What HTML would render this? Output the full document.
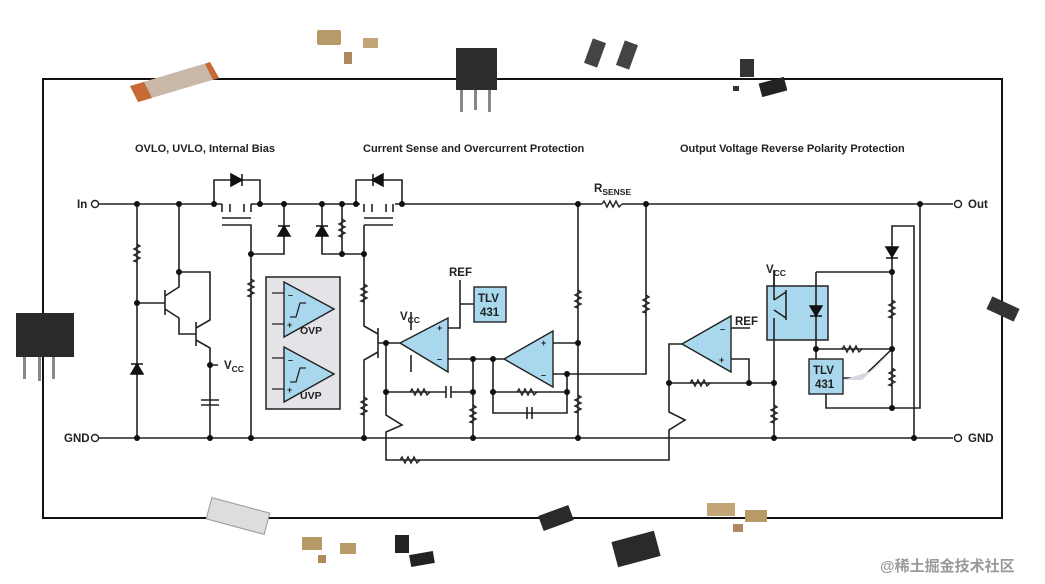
<!DOCTYPE html>
<html><head><meta charset="utf-8"><style>
html,body{margin:0;padding:0;background:#fff;width:1045px;height:584px;overflow:hidden}
svg{display:block}
text{font-family:"Liberation Sans",Arial,sans-serif;font-weight:bold;fill:#222}
</style></head><body>
<svg width="1045" height="584" viewBox="0 0 1045 584" xmlns="http://www.w3.org/2000/svg">
<defs>
<g id="rv"><path d="M0,-10 l3,2 l-6,3 l6,3 l-6,3 l6,3 l-6,3 l3,1" fill="none" stroke="#222" stroke-width="1.4"/></g>
<g id="rh"><path d="M-10,0 l2,-3 l3,6 l3,-6 l3,6 l3,-6 l3,6 l3,-3" fill="none" stroke="#222" stroke-width="1.4"/></g>
</defs>
<rect x="43" y="79" width="959" height="439" fill="none" stroke="#111" stroke-width="2"/>
<g fill="none" stroke="#222" stroke-width="1.6">
<path d="M99,204 H222 M251,204 H360 M395,204 H602 M622,204 H953"/>
<path d="M99,438 H953"/>
<path d="M214,204 V180 H260 V204 M222,204 V212 M230,204 V212 M244,204 V212 M251,204 V212 M222,218 H251 M222,225 H251 V254 H284 V204"/>
<path d="M137,204 V438 M179,204 V272 H210 V282 M251,254 V438"/>
<path d="M137,303 H165 M165,290 V315 M165,296 L179,287 V272 M165,309 L179,318 V334 H196 M196,322 V346 M196,328 L210,320 V282 M196,340 L210,348 V438"/>
<path d="M210,365 H218 M201,400 H219 M201,405 H219"/>
<path d="M356,204 V180 H402 V204 M364,204 V212 M372,204 V212 M386,204 V212 M393,204 V212 M364,218 H393 M364,225 H393"/>
<path d="M322,204 V254 H364 M342,204 V254 M364,225 V326 L378,334 M378,328 V358 M378,352 L364,360 V438"/>
<path d="M378,343 H400 M386,343 V392 M386,392 L386,415 L402,425 L386,432 V460 H669 V438 M669,438 V430 L685,420 L669,412 V344 H682"/>
<path d="M411,312 V330 M411,355 V372"/>
<path d="M448,328 H460 V280 M460,304 H474 M448,359 H504 M473,359 V438 M493,359 V413 H567 V374"/>
<path d="M386,392 H446 M451,392 H473 M446,386 V398 M451,386 V398 M493,392 H567 M527,407 V419 M532,407 V419"/>
<path d="M553,343 H578 M553,374 H646 V204 M578,204 V438"/>
<path d="M731,359 H749 V383 M731,328 H750 M669,383 H774 M774,300 V438 M774,270 V290 M774,300 L786,292 M774,310 L786,318 M786,290 V320"/>
<path d="M816,272 H892 V226 H914 V438 M892,272 V408 M816,272 V359 M816,349 H892 M826,394 V408 H920 V204"/>
<path d="M843,378 H862 L892,349"/>
<path d="M792,302 l5,-4 h4 M792,316 l5,-4 h4"/>
</g>
<g>
<use href="#rv" x="137" y="254"/><use href="#rv" x="251" y="289"/><use href="#rv" x="342" y="229"/>
<use href="#rv" x="364" y="294"/><use href="#rv" x="364" y="407"/><use href="#rv" x="473" y="415"/>
<use href="#rv" x="578" y="300"/><use href="#rv" x="578" y="405"/><use href="#rv" x="646" y="305"/>
<use href="#rv" x="774" y="415"/><use href="#rv" x="892" y="310"/><use href="#rv" x="892" y="378"/>
<use href="#rh" x="612" y="204"/><use href="#rh" x="420" y="392"/><use href="#rh" x="527" y="392"/>
<use href="#rh" x="410" y="460"/><use href="#rh" x="700" y="383"/><use href="#rh" x="852" y="349"/>
</g>
<g fill="#111" stroke="#111" stroke-width="1.5">
<path d="M231,174 L231,186 L242,180 Z M242,174 V186"/>
<path d="M373,174 L373,186 L384,180 Z" transform="rotate(180 378 180)"/><path d="M373,174 V186"/>
<path d="M278,236 h12 l-6,-10 z M278,226 h12"/><path d="M316,236 h12 l-6,-10 z M316,226 h12"/>
<path d="M131,374 h12 l-6,-10 z M131,364 h12"/>
<path d="M886,247 h12 l-6,10 z M886,258 h12"/>
</g>
<path d="M843,380 L862,380 L892,351 L874,370Z" fill="#d8d8e4"/>
<g fill="#111">
<circle cx="137" cy="204" r="3"/><circle cx="179" cy="204" r="3"/><circle cx="214" cy="204" r="3"/><circle cx="260" cy="204" r="3"/><circle cx="284" cy="204" r="3"/><circle cx="322" cy="204" r="3"/><circle cx="342" cy="204" r="3"/><circle cx="356" cy="204" r="3"/><circle cx="402" cy="204" r="3"/><circle cx="578" cy="204" r="3"/><circle cx="646" cy="204" r="3"/><circle cx="920" cy="204" r="3"/>
<circle cx="251" cy="254" r="3"/><circle cx="342" cy="254" r="3"/><circle cx="364" cy="254" r="3"/><circle cx="179" cy="272" r="3"/><circle cx="137" cy="303" r="3"/><circle cx="210" cy="365" r="3"/>
<circle cx="386" cy="343" r="3"/><circle cx="473" cy="359" r="3"/><circle cx="493" cy="359" r="3"/><circle cx="578" cy="343" r="3"/><circle cx="567" cy="374" r="3"/>
<circle cx="386" cy="392" r="3"/><circle cx="473" cy="392" r="3"/><circle cx="493" cy="392" r="3"/><circle cx="567" cy="392" r="3"/>
<circle cx="669" cy="383" r="3"/><circle cx="749" cy="383" r="3"/><circle cx="774" cy="383" r="3"/><circle cx="892" cy="272" r="3"/><circle cx="816" cy="349" r="3"/><circle cx="892" cy="349" r="3"/><circle cx="892" cy="408" r="3"/>
<circle cx="137" cy="438" r="3"/><circle cx="210" cy="438" r="3"/><circle cx="251" cy="438" r="3"/><circle cx="364" cy="438" r="3"/><circle cx="473" cy="438" r="3"/><circle cx="578" cy="438" r="3"/><circle cx="774" cy="438" r="3"/><circle cx="914" cy="438" r="3"/>
</g>
<g fill="#fff" stroke="#222" stroke-width="1.4">
<circle cx="95" cy="204" r="3.5"/><circle cx="95" cy="438" r="3.5"/><circle cx="958" cy="204" r="3.5"/><circle cx="958" cy="438" r="3.5"/>
</g>
<rect x="266" y="277" width="74" height="132" fill="#e4e4e8" stroke="#222" stroke-width="1.5"/>
<g fill="#a9d8ee" stroke="#222" stroke-width="1.4">
<path d="M284,282 L334,309 L284,337Z"/><path d="M284,347 L334,374 L284,402Z"/>
<path d="M400,343 L448,318 L448,372Z"/><path d="M504,359 L553,331 L553,387Z"/>
<path d="M682,344 L731,316 L731,372Z"/>
</g>
<g fill="none" stroke="#222" stroke-width="1.3">
<path d="M272,293 H284 M272,324 H284 M272,358 H284 M272,389 H284"/>
<path d="M290,317 h6 l4,-14 h6 M290,382 h6 l4,-14 h6"/>
</g>
<rect x="474" y="287" width="32" height="35" fill="#a9d8ee" stroke="#222" stroke-width="1.4"/>
<rect x="767" y="286" width="61" height="54" fill="#a9d8ee" stroke="#222" stroke-width="1.5"/>
<rect x="809" y="359" width="34" height="35" fill="#a9d8ee" stroke="#222" stroke-width="1.4"/>
<g fill="none" stroke="#222" stroke-width="1.6"><path d="M774,270 V300 M774,310 L786,318 M774,300 L786,292 M786,290 V320 M774,318 V340 M816,286 V340"/></g>
<path d="M810,306 h12 l-6,10z M810,316 h12" fill="#111" stroke="#111" stroke-width="1.4"/>
<g font-size="11">
<text x="135" y="152">OVLO, UVLO, Internal Bias</text>
<text x="363" y="152">Current Sense and Overcurrent Protection</text>
<text x="680" y="152">Output Voltage Reverse Polarity Protection</text>
</g>
<g font-size="11.5">
<text x="77" y="208">In</text><text x="64" y="442">GND</text>
<text x="968" y="208">Out</text><text x="968" y="442">GND</text>
<text x="224" y="369">V<tspan font-size="8.5" dy="3">CC</tspan></text>
<text x="400" y="320">V<tspan font-size="8.5" dy="3">CC</tspan></text>
<text x="766" y="273">V<tspan font-size="8.5" dy="3">CC</tspan></text>
<text x="594" y="192">R<tspan font-size="8.5" dy="3">SENSE</tspan></text>
<text x="449" y="276">REF</text><text x="735" y="325">REF</text>
<text x="478" y="302">TLV</text><text x="480" y="316">431</text>
<text x="813" y="374">TLV</text><text x="815" y="388">431</text>
<text x="300" y="334" font-size="10.5">OVP</text><text x="300" y="399" font-size="10.5">UVP</text>
<text x="288" y="298" font-size="9">–</text><text x="287" y="328" font-size="9">+</text>
<text x="288" y="363" font-size="9">–</text><text x="287" y="393" font-size="9">+</text>
<text x="437" y="331" font-size="9">+</text><text x="437" y="362" font-size="9">–</text>
<text x="541" y="346" font-size="9">+</text><text x="541" y="378" font-size="9">–</text>
<text x="720" y="332" font-size="9">–</text><text x="719" y="363" font-size="9">+</text>
</g>
<g>
<path d="M130,86 L210,62 L219,78 L138,102Z" fill="#c9b8a8"/><path d="M130,86 L144,82 L152,98 L138,102Z M205,64 L210,62 L219,78 L213,80Z" fill="#c76a35"/>
<rect x="317" y="30" width="24" height="15" fill="#b89a68" rx="2"/><rect x="363" y="38" width="15" height="10" fill="#c4a676"/><rect x="344" y="52" width="8" height="12" fill="#b08860"/>
<rect x="456" y="48" width="41" height="42" fill="#2d2d2d"/><rect x="460" y="90" width="3" height="22" fill="#888"/><rect x="474" y="90" width="3" height="20" fill="#888"/><rect x="488" y="90" width="3" height="22" fill="#888"/>
<rect x="588" y="40" width="14" height="26" fill="#444" transform="rotate(20 595 53)"/><rect x="620" y="42" width="14" height="26" fill="#444" transform="rotate(20 627 55)"/>
<rect x="740" y="59" width="14" height="18" fill="#333"/><rect x="760" y="80" width="26" height="14" fill="#222" transform="rotate(-15 773 87)"/><rect x="733" y="86" width="6" height="5" fill="#333"/>
<rect x="16" y="313" width="58" height="44" fill="#2a2a2a"/><rect x="23" y="357" width="3" height="22" fill="#888"/><rect x="38" y="357" width="3" height="24" fill="#888"/><rect x="52" y="357" width="3" height="22" fill="#888"/>
<rect x="988" y="302" width="30" height="14" fill="#333" transform="rotate(25 1003 309)"/>
<rect x="208" y="505" width="60" height="22" fill="#ddd" stroke="#999" transform="rotate(15 238 516)"/>
<rect x="302" y="537" width="20" height="13" fill="#b89a68"/><rect x="340" y="543" width="16" height="11" fill="#b89a68"/><rect x="318" y="555" width="8" height="8" fill="#b08860"/>
<rect x="395" y="535" width="14" height="18" fill="#222"/><rect x="410" y="553" width="24" height="12" fill="#222" transform="rotate(-10 422 559)"/>
<rect x="540" y="510" width="32" height="16" fill="#2a2a2a" transform="rotate(-20 556 518)"/>
<rect x="614" y="536" width="44" height="26" fill="#2a2a2a" transform="rotate(-15 636 549)"/>
<rect x="707" y="503" width="28" height="13" fill="#c4a676"/><rect x="745" y="510" width="22" height="12" fill="#b89a68"/><rect x="733" y="524" width="10" height="8" fill="#b08860"/>
</g>
<text x="880" y="571" font-size="15" font-weight="normal" style="fill:#999;font-family:'Liberation Sans','Noto Sans CJK SC',sans-serif">@稀土掘金技术社区</text>
</svg>
</body></html>
